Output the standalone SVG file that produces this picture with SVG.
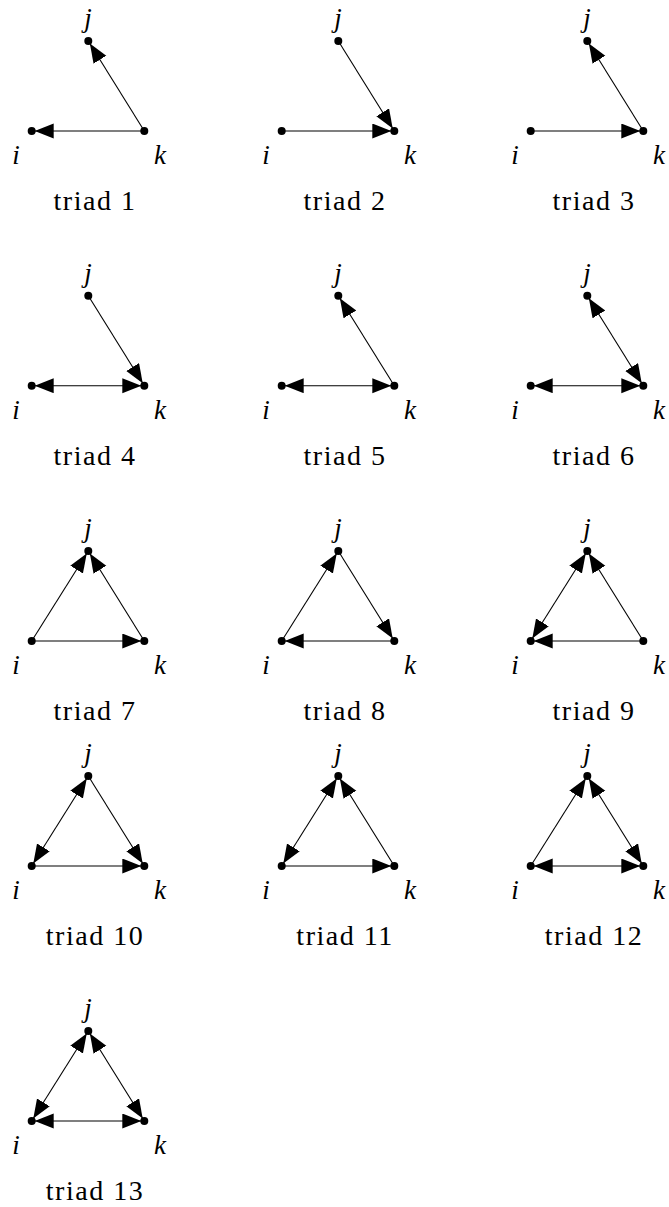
<svg xmlns="http://www.w3.org/2000/svg" width="669" height="1207" viewBox="0 0 669 1207">
<style>
.e{stroke:#000;stroke-width:1.1;fill:none}
.a{marker-end:url(#ah)}
.b{marker-start:url(#ah);marker-end:url(#ah)}
.d{fill:#000}
.l{font-family:"Liberation Serif","DejaVu Serif","Times New Roman",serif;font-style:italic;font-size:27px;text-anchor:middle;fill:#000}
.c{font-family:"Liberation Serif","DejaVu Serif","Times New Roman",serif;font-size:28px;letter-spacing:1.5px;text-anchor:middle;fill:#000}
</style>
<defs>
<marker id="ah" markerUnits="userSpaceOnUse" markerWidth="24" markerHeight="16" viewBox="0 0 24 16" refX="22" refY="7.5" orient="auto-start-reverse"><path d="M0,0 L19,7.5 L0,15 Z" fill="#000"/></marker>
<g id="ni"><circle class="d" cx="31.7" cy="90" r="4"/><text class="l" x="16" y="123">i</text></g>
<g id="nj"><circle class="d" cx="88.3" cy="0" r="4"/><text class="l" x="88" y="-14">j</text></g>
<g id="nk"><circle class="d" cx="144.3" cy="90" r="4"/><text class="l" x="160" y="123">k</text></g>
</defs>

<g id="triad1" transform="translate(0,41)">
<g id="t1-connectors" class="e"><line class="a" x1="144.3" y1="90" x2="31.7" y2="90"/><line class="a" x1="144.3" y1="90" x2="88.3" y2="0"/></g>
<g id="t1-i"><use href="#ni"/></g><g id="t1-j"><use href="#nj"/></g><g id="t1-k"><use href="#nk"/></g>
<text class="c" x="95" y="169">triad 1</text>
</g>

<g id="triad2" transform="translate(250,41)">
<g id="t2-connectors" class="e"><line class="a" x1="31.7" y1="90" x2="144.3" y2="90"/><line class="a" x1="88.3" y1="0" x2="144.3" y2="90"/></g>
<g id="t2-i"><use href="#ni"/></g><g id="t2-j"><use href="#nj"/></g><g id="t2-k"><use href="#nk"/></g>
<text class="c" x="95" y="169">triad 2</text>
</g>

<g id="triad3" transform="translate(499,41)">
<g id="t3-connectors" class="e"><line class="a" x1="31.7" y1="90" x2="144.3" y2="90"/><line class="a" x1="144.3" y1="90" x2="88.3" y2="0"/></g>
<g id="t3-i"><use href="#ni"/></g><g id="t3-j"><use href="#nj"/></g><g id="t3-k"><use href="#nk"/></g>
<text class="c" x="95" y="169">triad 3</text>
</g>

<g id="triad4" transform="translate(0,295.7)">
<g id="t4-connectors" class="e"><line class="b" x1="31.7" y1="90" x2="144.3" y2="90"/><line class="a" x1="88.3" y1="0" x2="144.3" y2="90"/></g>
<g id="t4-i"><use href="#ni"/></g><g id="t4-j"><use href="#nj"/></g><g id="t4-k"><use href="#nk"/></g>
<text class="c" x="95" y="169">triad 4</text>
</g>

<g id="triad5" transform="translate(250,295.7)">
<g id="t5-connectors" class="e"><line class="b" x1="31.7" y1="90" x2="144.3" y2="90"/><line class="a" x1="144.3" y1="90" x2="88.3" y2="0"/></g>
<g id="t5-i"><use href="#ni"/></g><g id="t5-j"><use href="#nj"/></g><g id="t5-k"><use href="#nk"/></g>
<text class="c" x="95" y="169">triad 5</text>
</g>

<g id="triad6" transform="translate(499,295.7)">
<g id="t6-connectors" class="e"><line class="b" x1="31.7" y1="90" x2="144.3" y2="90"/><line class="b" x1="88.3" y1="0" x2="144.3" y2="90"/></g>
<g id="t6-i"><use href="#ni"/></g><g id="t6-j"><use href="#nj"/></g><g id="t6-k"><use href="#nk"/></g>
<text class="c" x="95" y="169">triad 6</text>
</g>

<g id="triad7" transform="translate(0,551)">
<g id="t7-connectors" class="e"><line class="a" x1="31.7" y1="90" x2="88.3" y2="0"/><line class="a" x1="144.3" y1="90" x2="88.3" y2="0"/><line class="a" x1="31.7" y1="90" x2="144.3" y2="90"/></g>
<g id="t7-i"><use href="#ni"/></g><g id="t7-j"><use href="#nj"/></g><g id="t7-k"><use href="#nk"/></g>
<text class="c" x="95" y="169">triad 7</text>
</g>

<g id="triad8" transform="translate(250,551)">
<g id="t8-connectors" class="e"><line class="a" x1="31.7" y1="90" x2="88.3" y2="0"/><line class="a" x1="88.3" y1="0" x2="144.3" y2="90"/><line class="a" x1="144.3" y1="90" x2="31.7" y2="90"/></g>
<g id="t8-i"><use href="#ni"/></g><g id="t8-j"><use href="#nj"/></g><g id="t8-k"><use href="#nk"/></g>
<text class="c" x="95" y="169">triad 8</text>
</g>

<g id="triad9" transform="translate(499,551)">
<g id="t9-connectors" class="e"><line class="b" x1="31.7" y1="90" x2="88.3" y2="0"/><line class="a" x1="144.3" y1="90" x2="88.3" y2="0"/><line class="a" x1="144.3" y1="90" x2="31.7" y2="90"/></g>
<g id="t9-i"><use href="#ni"/></g><g id="t9-j"><use href="#nj"/></g><g id="t9-k"><use href="#nk"/></g>
<text class="c" x="95" y="169">triad 9</text>
</g>

<g id="triad10" transform="translate(0,776)">
<g id="t10-connectors" class="e"><line class="b" x1="31.7" y1="90" x2="88.3" y2="0"/><line class="a" x1="88.3" y1="0" x2="144.3" y2="90"/><line class="a" x1="31.7" y1="90" x2="144.3" y2="90"/></g>
<g id="t10-i"><use href="#ni"/></g><g id="t10-j"><use href="#nj"/></g><g id="t10-k"><use href="#nk"/></g>
<text class="c" x="95" y="169">triad 10</text>
</g>

<g id="triad11" transform="translate(250,776)">
<g id="t11-connectors" class="e"><line class="b" x1="31.7" y1="90" x2="88.3" y2="0"/><line class="a" x1="144.3" y1="90" x2="88.3" y2="0"/><line class="a" x1="31.7" y1="90" x2="144.3" y2="90"/></g>
<g id="t11-i"><use href="#ni"/></g><g id="t11-j"><use href="#nj"/></g><g id="t11-k"><use href="#nk"/></g>
<text class="c" x="95" y="169">triad 11</text>
</g>

<g id="triad12" transform="translate(499,776)">
<g id="t12-connectors" class="e"><line class="a" x1="31.7" y1="90" x2="88.3" y2="0"/><line class="b" x1="88.3" y1="0" x2="144.3" y2="90"/><line class="b" x1="31.7" y1="90" x2="144.3" y2="90"/></g>
<g id="t12-i"><use href="#ni"/></g><g id="t12-j"><use href="#nj"/></g><g id="t12-k"><use href="#nk"/></g>
<text class="c" x="95" y="169">triad 12</text>
</g>

<g id="triad13" transform="translate(0,1031)">
<g id="t13-connectors" class="e"><line class="b" x1="31.7" y1="90" x2="88.3" y2="0"/><line class="b" x1="88.3" y1="0" x2="144.3" y2="90"/><line class="b" x1="31.7" y1="90" x2="144.3" y2="90"/></g>
<g id="t13-i"><use href="#ni"/></g><g id="t13-j"><use href="#nj"/></g><g id="t13-k"><use href="#nk"/></g>
<text class="c" x="95" y="169">triad 13</text>
</g>
</svg>
